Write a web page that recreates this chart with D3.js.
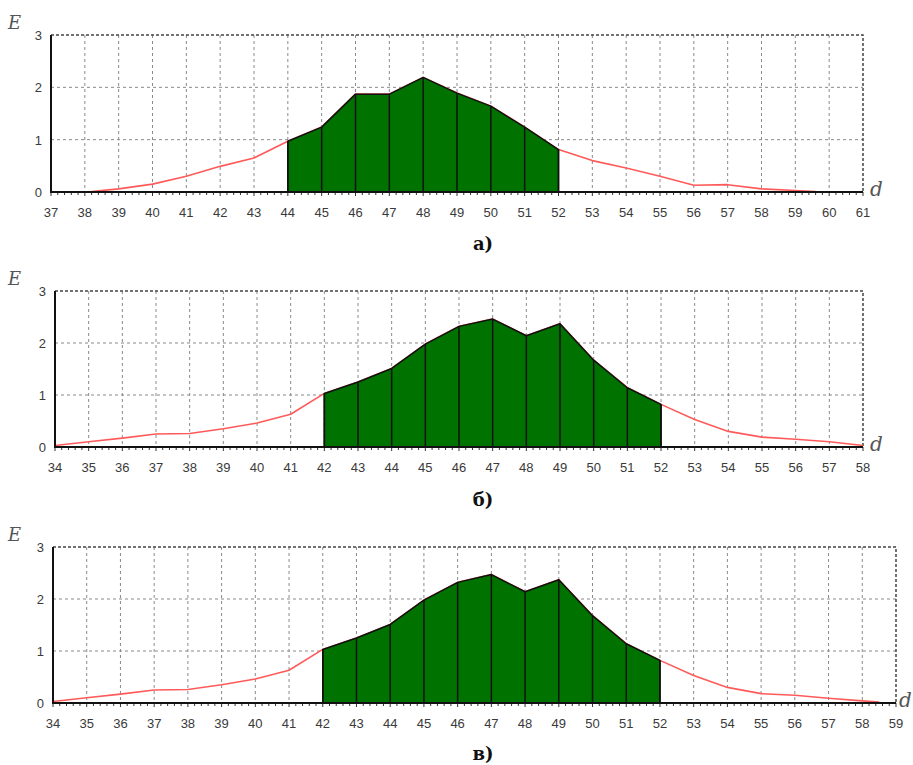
<!DOCTYPE html>
<html>
<head>
<meta charset="utf-8">
<script src="https://cdn.jsdelivr.net/npm/d3@7"></script>
<style>
  body { margin: 0; background: #fff; }
  .tick-label { font-family: "Liberation Sans", Arial, sans-serif; font-size: 13px; fill: #3a3a3a; }
  .axis-name { font-family: "DejaVu Serif", "Liberation Serif", serif; font-style: italic; fill: #555; }
  .caption { font-family: "DejaVu Serif", "Liberation Serif", serif; font-weight: bold; font-size: 18px; fill: #111; }
</style>
</head>
<body>
<div id="chart"></div>
<script>

// panel а)
var dA = [38.2, 39, 40, 41, 42, 43, 44, 45, 46, 47, 48, 49, 50, 51, 52, 53, 54, 55, 56, 57, 58, 59, 59.6];
var eA = [0.01, 0.06, 0.15, 0.30, 0.49, 0.65, 0.97, 1.24, 1.87, 1.87, 2.19, 1.89, 1.64, 1.24, 0.81, 0.60, 0.46, 0.30, 0.13, 0.14, 0.06, 0.03, 0.01];
var shadeA = [44, 52];

// panel б)
var dB = [34, 35, 36, 37, 38, 39, 40, 41, 42, 43, 44, 45, 46, 47, 48, 49, 50, 51, 52, 53, 54, 55, 56, 57, 58];
var eB = [0.03, 0.10, 0.17, 0.25, 0.26, 0.35, 0.46, 0.63, 1.03, 1.25, 1.51, 1.98, 2.32, 2.46, 2.14, 2.37, 1.67, 1.14, 0.82, 0.53, 0.30, 0.19, 0.15, 0.10, 0.03];
var shadeB = [42, 52];

// panel в)
var dC = [34, 35, 36, 37, 38, 39, 40, 41, 42, 43, 44, 45, 46, 47, 48, 49, 50, 51, 52, 53, 54, 55, 56, 57, 58, 58.5];
var eC = [0.03, 0.10, 0.17, 0.25, 0.26, 0.35, 0.46, 0.63, 1.03, 1.25, 1.51, 1.98, 2.32, 2.47, 2.14, 2.37, 1.68, 1.14, 0.82, 0.53, 0.30, 0.18, 0.15, 0.09, 0.04, 0.02];
var shadeC = [42, 52];

var xRangeA = [37, 61], xRangeB = [34, 58], xRangeC = [34, 59];
var yTicks = [0, 1, 2, 3];
var captions = ["а)", "б)", "в)"];

var panels = [
  {d: dA, e: eA, shade: shadeA, xr: xRangeA, cap: captions[0],
   left: 51, right: 863, top: 35, bottom: 192, capY: 250},
  {d: dB, e: eB, shade: shadeB, xr: xRangeB, cap: captions[1],
   left: 55, right: 863, top: 291, bottom: 447, capY: 506},
  {d: dC, e: eC, shade: shadeC, xr: xRangeC, cap: captions[2],
   left: 53, right: 896, top: 547, bottom: 703, capY: 760}
];

var svg = d3.select("#chart").append("svg")
    .attr("width", 913)
    .attr("height", 765);

function drawPanel(p){

    var x = d3.scaleLinear().domain(p.xr).range([p.left, p.right]);
    var y = d3.scaleLinear().domain([0, 3]).range([p.bottom, p.top]);

    var g = svg.append("g");

    var data = p.d.map(function(v, i){ return {d: v, e: p.e[i]}; });
    var shaded = data.filter(function(r){ return r.d >= p.shade[0] && r.d <= p.shade[1]; });

    var xs = d3.range(p.xr[0], p.xr[1] + 1);

    // vertical grid
    g.selectAll("line.vgrid")
      .data(xs.slice(1, -1))
      .enter().append("line")
        .attr("x1", x).attr("x2", x)
        .attr("y1", p.top).attr("y2", p.bottom)
        .attr("stroke", "#8a8a8a")
        .attr("stroke-width", 1)
        .attr("stroke-dasharray", "3,3");

    // horizontal grid
    g.selectAll("line.hgrid")
      .data([1, 2])
      .enter().append("line")
        .attr("x1", p.left).attr("x2", p.right)
        .attr("y1", y).attr("y2", y)
        .attr("stroke", "#8a8a8a")
        .attr("stroke-width", 1)
        .attr("stroke-dasharray", "3,3");

    // top + right border
    g.append("path")
      .attr("d", "M" + p.left + "," + y(3) + "H" + x(p.xr[1]) + "V" + y(0))
      .attr("fill", "none")
      .attr("stroke", "#444")
      .attr("stroke-width", 1.5)
      .attr("stroke-dasharray", "3,2");

    // red curve
    var line = d3.line()
      .x(function(r){ return x(r.d); })
      .y(function(r){ return y(r.e); });

    g.append("path")
      .attr("d", line(data))
      .attr("fill", "none")
      .attr("stroke", "#ff5a5a")
      .attr("stroke-width", 1.6)
      .attr("stroke-linejoin", "round");

    // green area
    var area = d3.area()
      .x(function(r){ return x(r.d); })
      .y0(y(0))
      .y1(function(r){ return y(r.e); });

    g.append("path")
      .attr("d", area(shaded))
      .attr("fill", "#007200")
      .attr("stroke", "#111")
      .attr("stroke-width", 1.5)
      .attr("stroke-linejoin", "round");

    g.selectAll("line.sep")
      .data(shaded)
      .enter().append("line")
        .attr("x1", function(r){ return x(r.d); })
        .attr("x2", function(r){ return x(r.d); })
        .attr("y1", function(r){ return y(r.e); })
        .attr("y2", y(0))
        .attr("stroke", "#111")
        .attr("stroke-width", 1.5);

    // minor ticks on the x axis
    var minor = d3.range(p.xr[0] * 5, p.xr[1] * 5 + 1).map(function(v){ return v / 5; });
    g.selectAll("line.minor")
      .data(minor)
      .enter().append("line")
        .attr("x1", x).attr("x2", x)
        .attr("y1", y(0)).attr("y2", function(v){ return y(0) + (Number.isInteger(v) ? 4 : 3); })
        .attr("stroke", "#333")
        .attr("stroke-width", 1);

    // axes lines
    g.append("line")
      .attr("x1", p.left).attr("x2", x(p.xr[1]))
      .attr("y1", y(0)).attr("y2", y(0))
      .attr("stroke", "#111").attr("stroke-width", 2);
    g.append("line")
      .attr("x1", p.left).attr("x2", p.left)
      .attr("y1", y(0) + 1).attr("y2", y(3))
      .attr("stroke", "#111").attr("stroke-width", 2);

    // tick labels
    g.selectAll("text.xl")
      .data(xs)
      .enter().append("text")
        .attr("class", "tick-label")
        .attr("x", x)
        .attr("y", p.bottom + 25)
        .attr("text-anchor", "middle")
        .text(function(v){ return v; });

    g.selectAll("text.yl")
      .data(yTicks)
      .enter().append("text")
        .attr("class", "tick-label")
        .attr("x", p.left - 9)
        .attr("y", function(v){ return y(v) + 5; })
        .attr("text-anchor", "end")
        .text(function(v){ return v; });

    // axis names
    g.append("text")
      .attr("class", "axis-name")
      .attr("x", 8)
      .attr("y", p.top - 6)
      .attr("font-size", 18)
      .text("E");

    g.append("text")
      .attr("class", "axis-name")
      .attr("x", Math.min(x(p.xr[1]) + 7, 899))
      .attr("y", y(0) + 4)
      .attr("font-size", 20)
      .text("d");

    svg.append("text")
      .attr("class", "caption")
      .attr("x", 483)
      .attr("y", p.capY)
      .attr("text-anchor", "middle")
      .text(p.cap);
}

panels.forEach(drawPanel);

</script>
</body>
</html>
